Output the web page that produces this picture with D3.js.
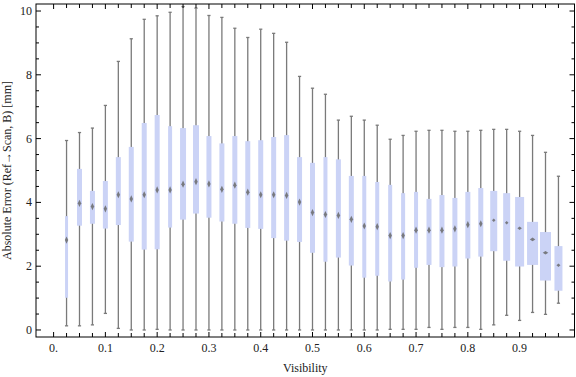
<!DOCTYPE html>
<html>
<head>
<meta charset="utf-8">
<script src="https://cdn.jsdelivr.net/npm/d3@7"></script>
<style>
  body { margin: 0; background: #fff; }
  svg text { font-family: "Liberation Serif", "DejaVu Serif", serif; fill: #222; }
</style>
</head>
<body>
<svg id="chart" width="576" height="377"></svg>
<script>
// visibility bins (box centres)
const visibility = d3.range(1, 40).map(i => +(i * 0.025).toFixed(3));

// box whisker statistics [mm]
const whiskerLow = [0.13, 0.13, 0.16, 0.52, 0.05, 0, 0, 0.02, 0, 0,
                    0, 0, 0, 0, 0, 0, 0, 0, 0, 0,
                    0, 0, 0, 0, 0, 0.02, 0.02, 0.02, 0.08, 0.02,
                    0.08, 0.08, 0.02, 0.16, 0.46, 0.30, 0.55, 0.49, 0.84];
const q1 = [1.01, 3.27, 3.33, 3.18, 3.29, 2.77, 2.52, 2.53, 3.21, 3.46,
            3.65, 3.52, 3.40, 3.33, 3.20, 3.17, 2.88, 2.80, 2.76, 2.42,
            2.14, 2.27, 2.02, 1.64, 1.70, 1.52, 1.58, 1.95, 2.04, 1.97,
            1.99, 2.24, 2.30, 2.47, 2.17, 1.99, 2.04, 1.55, 1.23];
const median = [2.82, 3.97, 3.87, 3.80, 4.24, 4.11, 4.24, 4.39, 4.39, 4.57,
                4.65, 4.58, 4.41, 4.54, 4.32, 4.24, 4.24, 4.22, 4.01, 3.68,
                3.62, 3.59, 3.47, 3.26, 3.24, 2.96, 2.96, 3.13, 3.13, 3.13,
                3.17, 3.30, 3.33, 3.44, 3.36, 3.19, 2.84, 2.42, 2.03];
const q3 = [3.57, 5.05, 4.36, 4.67, 5.42, 5.74, 6.49, 6.74, 6.39, 6.33,
            6.42, 6.08, 5.85, 6.08, 5.92, 5.95, 6.05, 6.11, 5.42, 5.24,
            5.42, 5.35, 4.83, 4.83, 4.64, 4.55, 4.29, 4.33, 4.11, 4.23,
            4.14, 4.33, 4.45, 4.36, 4.29, 4.17, 3.39, 3.07, 2.63];
const whiskerHigh = [5.94, 6.19, 6.33, 7.04, 8.42, 9.13, 9.74, 9.85, 9.96, 10.14,
                     10.09, 9.86, 9.80, 9.46, 9.17, 9.43, 9.30, 9.02, 7.95, 7.58,
                     7.39, 6.58, 6.70, 6.58, 6.42, 5.98, 6.10, 6.23, 6.26, 6.26,
                     6.23, 6.23, 6.26, 6.29, 6.29, 6.23, 6.10, 5.57, 4.82];
// relative box weight (box width)
const weight = [0.6, 1, 1, 1, 1, 1, 1, 1, 0.8, 1.2,
                1.2, 1, 1, 1, 1, 1, 1, 1, 1, 1,
                0.8, 1, 1, 0.8, 0.8, 0.8, 0.8, 0.8, 1, 1,
                1, 1, 1, 1.4, 1.4, 1.8, 2.2, 2.2, 1.6];

const xLabels = ["0.", "0.1", "0.2", "0.3", "0.4", "0.5", "0.6", "0.7", "0.8", "0.9"];
const yLabels = [0, 2, 4, 6, 8, 10];

const boxes = visibility.map((v, i) => ({
  v, lo: whiskerLow[i], q1: q1[i], med: median[i], q3: q3[i], hi: whiskerHigh[i], w: weight[i]
}));

const svg = d3.select("#chart");
const L = 36, R = 574.5, T = 4, B = 337;

const x = d3.scaleLinear().domain([-0.034, 1.006]).range([L, R]);
const y = d3.scaleLinear().domain([-0.22, 10.22]).range([B, T]);
const wScale = d3.scaleLinear().domain([0, 1]).range([0, 5]);

const g = svg.append("g");

// boxes
const bw = g.selectAll("g.bw").data(boxes).enter().append("g").attr("class", "bw");

bw.append("line")
  .attr("x1", d => x(d.v)).attr("x2", d => x(d.v))
  .attr("y1", d => y(d.lo)).attr("y2", d => y(d.hi))
  .attr("stroke", "#7a7a7a").attr("stroke-width", 1.3);

// caps
["hi", "lo"].forEach(k => {
  bw.append("line")
    .attr("x1", d => x(d.v) - 1.6).attr("x2", d => x(d.v) + 1.6)
    .attr("y1", d => y(d[k])).attr("y2", d => y(d[k]))
    .attr("stroke", "#7a7a7a").attr("stroke-width", 1.3);
});

bw.append("rect")
  .attr("x", d => x(d.v) - wScale(d.w) / 2)
  .attr("width", d => wScale(d.w))
  .attr("y", d => y(d.q3))
  .attr("height", d => y(d.q1) - y(d.q3))
  .attr("fill", "#cbd3f6");

// median marker
bw.append("path")
  .attr("d", d => {
    const cx = x(d.v), cy = y(d.med);
    const bwpx = wScale(d.w);
    const hw = bwpx > 6 ? bwpx * 0.25 : 1.7;
    const hh = bwpx > 6 ? 1.8 : 3.6;
    return `M${cx},${cy - hh}L${cx + hw},${cy}L${cx},${cy + hh}L${cx - hw},${cy}Z`;
  })
  .attr("fill", "#6a6a6a").attr("opacity", 0.85);

// frame
svg.append("rect")
  .attr("x", L).attr("y", T).attr("width", R - L).attr("height", B - T)
  .attr("fill", "none").attr("stroke", "#000").attr("stroke-width", 1);

// x ticks (top and bottom)
const xTicks = d3.range(0, 40).map(i => i * 0.025);
xTicks.forEach((t, i) => {
  const len = i % 4 === 0 ? 5 : 4;
  svg.append("line").attr("x1", x(t)).attr("x2", x(t)).attr("y1", B).attr("y2", B - len)
    .attr("stroke", "#000");
  svg.append("line").attr("x1", x(t)).attr("x2", x(t)).attr("y1", T).attr("y2", T + len)
    .attr("stroke", "#000");
});
svg.selectAll("text.xl").data(xLabels).enter().append("text")
  .attr("x", (d, i) => x(i * 0.1)).attr("y", 352)
  .attr("text-anchor", "middle").attr("font-size", 12)
  .text(d => d);

// y ticks (left and right)
const yTicks = d3.range(0, 21).map(i => i * 0.5);
yTicks.forEach(t => {
  const major = t % 2 === 0;
  const len = major ? 5 : 3;
  svg.append("line").attr("x1", L).attr("x2", L + len).attr("y1", y(t)).attr("y2", y(t))
    .attr("stroke", "#000");
  svg.append("line").attr("x1", R).attr("x2", R - len).attr("y1", y(t)).attr("y2", y(t))
    .attr("stroke", "#000");
});
svg.selectAll("text.yl").data(yLabels).enter().append("text")
  .attr("x", 32).attr("y", d => y(d) + 4)
  .attr("text-anchor", "end").attr("font-size", 12)
  .text(d => d);

// axis titles
svg.append("text")
  .attr("x", (L + R) / 2).attr("y", 372)
  .attr("text-anchor", "middle").attr("font-size", 12)
  .text("Visibility");
svg.append("text")
  .attr("transform", `translate(11,${(T + B) / 2}) rotate(-90)`)
  .attr("text-anchor", "middle").attr("font-size", 12)
  .text("Absolute Error (Ref\u2192Scan, B) [mm]");
</script>
</body>
</html>
